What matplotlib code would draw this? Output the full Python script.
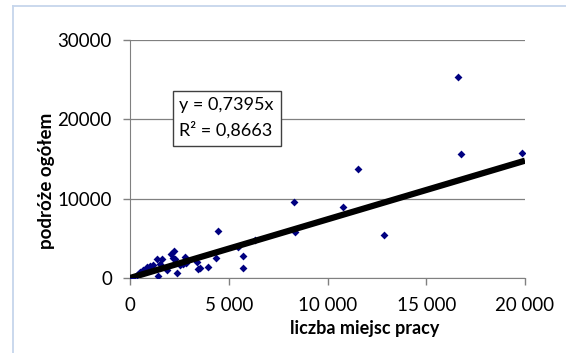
import matplotlib.pyplot as plt
from matplotlib.lines import Line2D
from matplotlib.ticker import FuncFormatter

plt.rcParams['font.family'] = ['Lato', 'DejaVu Sans']

# liczba miejsc pracy (x) i podróże ogółem (y)
jobs = [80, 340, 505, 670, 840, 1010, 1180, 1350, 1430, 1515, 1630, 1850,
        2100, 2240, 2190, 2270, 2360, 2525, 2690, 2780, 2860, 3370, 3450,
        3540, 3960, 4330, 4480, 5490, 5720, 5740, 6310, 8280, 8350, 10780,
        11550, 12850, 16630, 16750, 19870]
trips = [50, 340, 760, 1050, 1380, 1470, 1590, 2430, 210, 1720, 2430, 970,
         3060, 3390, 2560, 2340, 630, 1590, 1720, 2670, 1840, 2050, 1180,
         1290, 1380, 2560, 5880, 3900, 2720, 1250, 4770, 9620, 5780, 8910,
         13800, 5360, 25300, 15650, 15730]
slope = 0.7395
r2 = 0.8663

fig = plt.figure(figsize=(5.66, 3.53), dpi=100)

# ramka obszaru wykresu (jasnoniebieska), widoczna tylko lewa i górna krawędź
fx, fy = 12.5 / 566, 1 - 5.5 / 353
fig.lines.append(Line2D([fx, fx], [0, fy], transform=fig.transFigure,
                        color='#c6d6ec', linewidth=1.3))
fig.lines.append(Line2D([fx, 1], [fy, fy], transform=fig.transFigure,
                        color='#c6d6ec', linewidth=1.3))

ax = fig.add_axes([130 / 566, 75 / 353, 395 / 566, 238 / 353])
ax.set_xlim(0, 20000)
ax.set_ylim(0, 30000)

ax.grid(axis='y', color='#808080', linewidth=0.9)
ax.set_axisbelow(True)

ax.scatter(jobs, trips, marker='D', s=16, color='#000080', zorder=3,
           linewidths=0)
ax.plot([0, 20000], [0, slope * 20000], color='black', linewidth=4.5,
        zorder=4, solid_capstyle='butt')

ax.set_xticks([0, 5000, 10000, 15000, 20000])
ax.set_yticks([0, 10000, 20000, 30000])
ax.xaxis.set_major_formatter(FuncFormatter(lambda v, p: f'{int(v):,}'.replace(',', ' ')))
ax.tick_params(axis='both', direction='out', length=5, width=1,
               color='#808080', labelsize=13.5)
ax.tick_params(axis='x', pad=9)
ax.tick_params(axis='y', pad=8)

for s in ['top', 'right']:
    ax.spines[s].set_visible(False)
for s in ['left', 'bottom']:
    ax.spines[s].set_color('#808080')

ax.set_xlabel('liczba miejsc pracy', fontsize=13, fontweight='bold')
ax.set_ylabel('podróże ogółem', fontsize=13.5, fontweight='bold')
ax.xaxis.set_label_coords(0.595, -0.175)
ax.yaxis.set_label_coords(-0.19, 0.41)

ax.text(0.125, 0.672, f'y = {str(slope).replace(".", ",")}x\nR² = {str(r2).replace(".", ",")}',
        transform=ax.transAxes, fontsize=13, va='center', ha='left',
        linespacing=1.55, zorder=5,
        bbox=dict(boxstyle='square,pad=0.38', facecolor='white',
                  edgecolor='#404040', linewidth=1))

fig.savefig('out.png', dpi=100)
